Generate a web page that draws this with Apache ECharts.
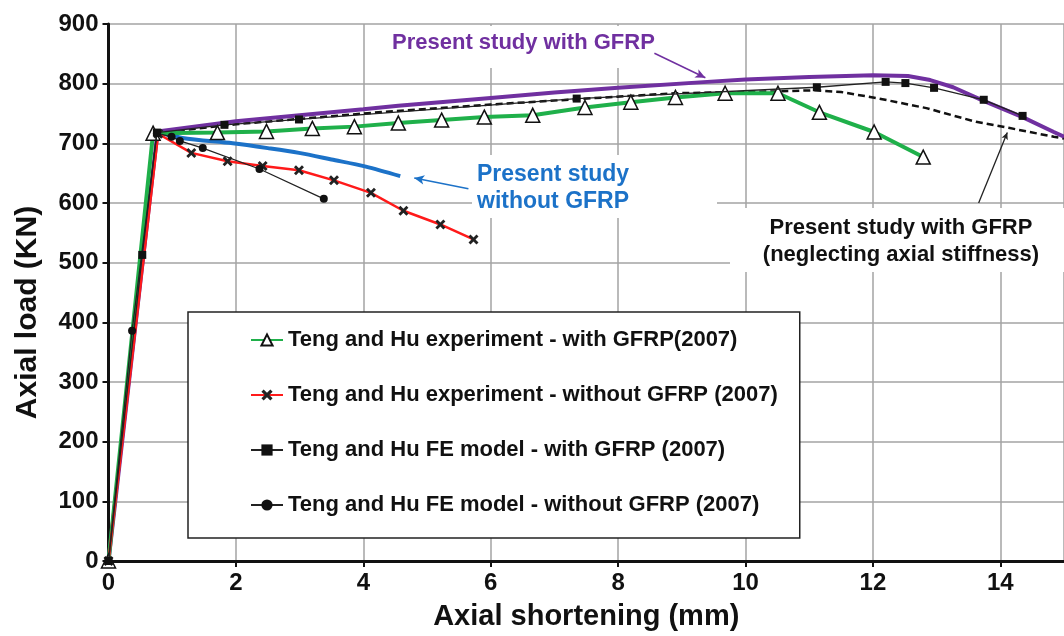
<!DOCTYPE html>
<html>
<head>
<meta charset="utf-8">
<script src="https://cdn.jsdelivr.net/npm/echarts@6/dist/echarts.min.js"></script>
<style>
  html, body { margin: 0; padding: 0; background: #fff; }
  #chart { width: 1064px; height: 636px; }
</style>
</head>
<body>
<div id="chart"></div>
<script>
// Axial load vs. axial shortening, [shortening (mm), load (kN)]
const expWithGfrp = [[0,0],[0.7,717],[1.71,718],[2.48,720],[3.2,725],[3.86,728],[4.55,734],[5.23,739],[5.9,744],[6.66,747],[7.48,760],[8.2,769],[8.9,777],[9.68,784],[10.51,784],[11.16,752],[12.02,719],[12.79,677]];
const expWithoutGfrp = [[0,0],[0.78,716],[1.3,684],[1.87,670],[2.42,662],[2.99,655],[3.54,638],[4.12,617],[4.63,587],[5.21,564],[5.73,539]];
const feWithGfrp = [[0,0],[0.53,513],[0.76,718],[1.82,731],[2.99,740],[7.35,775],[11.12,794],[12.2,803],[12.51,801],[12.96,793],[13.74,773],[14.35,746]];
const feWithoutGfrp = [[0,0],[0.37,386],[0.76,717],[0.99,711],[1.12,704],[1.48,692],[2.37,657],[3.38,607]];
const presentWithGfrp = [[0,0],[0.77,720],[2,737],[3,747],[4,757],[4.55,763],[6,776],[7,785],[8,793],[9.4,803],[10,807],[11,811],[12,814],[12.55,813],[12.9,806],[13.26,794],[13.72,772],[14.35,744],[14.84,719],[15,711]];
const presentNeglecting = [[0,0],[0.77,717],[2,732],[3,741],[4.24,752],[6,765],[7.35,774],[8.9,784],[10.5,787],[11.1,789],[11.5,786],[12.05,776],[12.84,759],[13.62,736],[14.13,726],[14.84,711],[15,708]];
const presentWithoutGfrp = [[0.77,719],[1.16,709],[1.95,700],[2.5,692],[2.99,684],[3.5,673],[4.04,661],[4.58,645]];

const legendNames = [
  'Teng and Hu experiment - with GFRP(2007)',
  'Teng and Hu experiment - without GFRP (2007)',
  'Teng and Hu FE model - with GFRP (2007)',
  'Teng and Hu FE model - without GFRP (2007)'
];

const FONT = '"Liberation Sans", Arial, sans-serif';
const GREEN = '#1fb04a', RED = '#ff1a1a', PURPLE = '#7030a0', BLUE = '#1c72c8';
const crossPath = 'path://M0,2 L2,0 L5,3 L8,0 L10,2 L7,5 L10,8 L8,10 L5,7 L2,10 L0,8 L3,5 Z';

const chart = echarts.init(document.getElementById('chart'), null, { renderer: 'canvas' });

chart.setOption({
  animation: false,
  backgroundColor: '#fff',
  grid: { left: 108.5, right: -4.5, top: 24, bottom: 74, containLabel: false },
  xAxis: {
    type: 'value', min: 0, max: 15, interval: 2,
    name: 'Axial shortening (mm)', nameLocation: 'middle', nameGap: 41,
    nameTextStyle: { fontFamily: FONT, fontWeight: 'bold', fontSize: 29, color: '#111' },
    axisLine: { show: true, onZero: false, lineStyle: { color: '#111', width: 3 } },
    axisTick: { show: true, length: 6, lineStyle: { color: '#111', width: 2 } },
    axisLabel: { margin: 10, showMaxLabel: false, fontFamily: FONT, fontWeight: 'bold', fontSize: 24, color: '#111' },
    splitLine: { show: true, lineStyle: { color: '#a3a3a3', width: 1.5 } }
  },
  yAxis: {
    type: 'value', min: 0, max: 900, interval: 100,
    name: 'Axial load (KN)', nameLocation: 'middle', nameGap: 66,
    nameTextStyle: { fontFamily: FONT, fontWeight: 'bold', fontSize: 30, color: '#111', padding: [0, 40, 0, 0] },
    axisLine: { show: true, lineStyle: { color: '#111', width: 3 } },
    axisTick: { show: true, length: 6, lineStyle: { color: '#111', width: 2 } },
    axisLabel: { margin: 10, fontFamily: FONT, fontWeight: 'bold', fontSize: 24, color: '#111' },
    splitLine: { show: true, lineStyle: { color: '#a3a3a3', width: 1.5 } }
  },
  legend: {
    data: legendNames,
    orient: 'vertical', left: 188, top: 312,
    padding: [17, 22, 22, 62],
    itemGap: 33, itemWidth: 32, itemHeight: 14,
    backgroundColor: '#fff', borderColor: '#222', borderWidth: 1.5, borderRadius: 0,
    textStyle: { fontFamily: FONT, fontWeight: 'bold', fontSize: 22, color: '#111' }
  },
  graphic: [
    { type: 'rect', z: 1, shape: { x: 380, y: 26, width: 300, height: 42 }, style: { fill: '#fff' } },
    { type: 'rect', z: 1, shape: { x: 472, y: 155, width: 245, height: 63 }, style: { fill: '#fff' } },
    { type: 'rect', z: 1, shape: { x: 730, y: 208, width: 340, height: 64 }, style: { fill: '#fff' } },
    { type: 'text', z: 5, style: { text: 'Present study with GFRP', x: 392, y: 43, font: 'bold 22px ' + FONT, fill: PURPLE, textAlign: 'left', textVerticalAlign: 'middle' } },
    { type: 'text', z: 5, style: { text: 'Present study', x: 477, y: 175, font: 'bold 23px ' + FONT, fill: BLUE, textAlign: 'left', textVerticalAlign: 'middle' } },
    { type: 'text', z: 5, style: { text: 'without GFRP', x: 477, y: 202, font: 'bold 23px ' + FONT, fill: BLUE, textAlign: 'left', textVerticalAlign: 'middle' } },
    { type: 'text', z: 5, style: { text: 'Present study with GFRP', x: 901, y: 228, font: 'bold 22px ' + FONT, fill: '#111', textAlign: 'center', textVerticalAlign: 'middle' } },
    { type: 'text', z: 5, style: { text: '(neglecting axial stiffness)', x: 901, y: 255, font: 'bold 22px ' + FONT, fill: '#111', textAlign: 'center', textVerticalAlign: 'middle' } }
  ],
  series: [
    {
      name: 'Present study with GFRP (neglecting axial stiffness)', type: 'line', data: presentNeglecting,
      showSymbol: false, symbol: 'none', z: 2,
      lineStyle: { color: '#111', width: 2.5, type: [7, 4] },
      markLine: {
        silent: true, animation: false, symbol: ['none', 'arrow'], symbolSize: [5, 7],
        label: { show: false }, lineStyle: { color: '#222', width: 1.3, type: 'solid' },
        data: [[{ coord: [13.66, 600] }, { coord: [14.11, 718] }]]
      }
    },
    {
      name: 'Present study with GFRP', type: 'line', data: presentWithGfrp,
      showSymbol: false, symbol: 'none', z: 3,
      lineStyle: { color: PURPLE, width: 4 },
      markLine: {
        silent: true, animation: false, symbol: ['none', 'arrow'], symbolSize: [7, 10],
        label: { show: false }, lineStyle: { color: PURPLE, width: 1.5, type: 'solid' },
        data: [[{ coord: [8.57, 851] }, { coord: [9.37, 810] }]]
      }
    },
    {
      name: 'Present study without GFRP', type: 'line', data: presentWithoutGfrp,
      showSymbol: false, symbol: 'none', z: 3, smooth: 0.3,
      lineStyle: { color: BLUE, width: 4 },
      markLine: {
        silent: true, animation: false, symbol: ['none', 'arrow'], symbolSize: [7, 10],
        label: { show: false }, lineStyle: { color: BLUE, width: 1.5, type: 'solid' },
        data: [[{ coord: [5.65, 624] }, { coord: [4.8, 642] }]]
      }
    },
    {
      name: legendNames[0], type: 'line', data: expWithGfrp, z: 4,
      symbol: 'triangle', symbolSize: 14,
      lineStyle: { color: GREEN, width: 4 },
      itemStyle: { color: '#fff', borderColor: '#111', borderWidth: 1.5 }
    },
    {
      name: legendNames[1], type: 'line', data: expWithoutGfrp, z: 4,
      symbol: crossPath, symbolSize: 10,
      lineStyle: { color: RED, width: 2.5 },
      itemStyle: { color: '#222' }
    },
    {
      name: legendNames[2], type: 'line', data: feWithGfrp, z: 5,
      symbol: 'rect', symbolSize: 8,
      lineStyle: { color: '#222', width: 1.3 },
      itemStyle: { color: '#111' }
    },
    {
      name: legendNames[3], type: 'line', data: feWithoutGfrp, z: 5,
      symbol: 'circle', symbolSize: 8,
      lineStyle: { color: '#222', width: 1.3 },
      itemStyle: { color: '#111' }
    }
  ]
});
</script>
</body>
</html>
